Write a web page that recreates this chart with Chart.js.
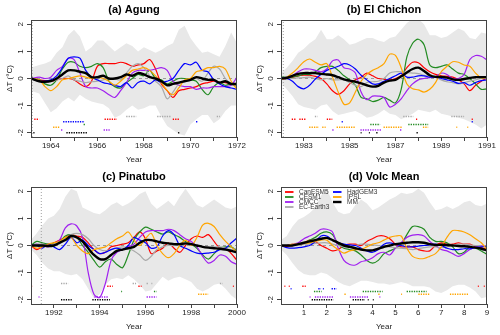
<!DOCTYPE html>
<html>
<head>
<meta charset="utf-8">
<script src="https://cdn.jsdelivr.net/npm/chart.js@4.4.1/dist/chart.umd.min.js"></script>
<style>
  body { margin: 0; background: #fff; }
  #wrap { position: relative; width: 500px; height: 335px; }
  .panel { position: absolute; width: 250px; height: 167px; }
</style>
</head>
<body>
<div id="wrap">
  <div class="panel" style="left:0;top:0"><canvas id="cA" width="250" height="167"></canvas></div>
  <div class="panel" style="left:250px;top:0"><canvas id="cB" width="250" height="167"></canvas></div>
  <div class="panel" style="left:0;top:167px"><canvas id="cC" width="250" height="167"></canvas></div>
  <div class="panel" style="left:250px;top:167px"><canvas id="cD" width="250" height="167"></canvas></div>
</div>
<script>
// models and their colours
const models = ["CanESM5", "CESM1", "CMCC", "EC-Earth3", "HadGEM3", "IPSL", "MM"];
const colours = ["#ff0000", "#228b22", "#a020f0", "#a9a9a9", "#0000ff", "#ffa500", "#000000"];
// row where each model's significance dots sit
const sigLevels = [-1.5, -1.7, -1.9, -1.4, -1.6, -1.8, -2.0];
const yTicks = [-2, -1, 0, 1, 2];

// ---- (a) Agung ----
const yrsA = [1963.15,1963.5,1963.75,1964,1964.25,1964.5,1964.75,1965,1965.25,1965.5,1965.75,1966,1966.25,1966.5,1966.75,1967,1967.25,1967.5,1967.75,1968,1968.25,1968.5,1968.75,1969,1969.25,1969.5,1969.75,1970,1970.25,1970.5,1970.75,1971,1971.25,1971.5,1971.75,1972];
const canA = [0,-0.05,-0.08,-0.1,-0.05,0,0,-0.05,-0.2,-0.3,-0.1,0.45,0.55,0.55,0.55,0.6,0.55,0.45,0.5,0.55,0.7,0.35,-0.2,-0.45,-0.7,-0.45,-0.4,-0.35,-0.3,-0.2,-0.15,-0.1,-0.15,-0.15,-0.2,-0.2];
const cesA = [0,-0.05,-0.2,-0.25,-0.05,0.35,0.6,0.6,0.45,0.4,0.45,0.55,0.4,-0.1,-0.3,-0.35,-0.15,0,0.15,0.1,0.3,0,-0.05,-0.2,-0.1,0,0,-0.05,-0.1,-0.4,-0.6,-0.3,-0.15,-0.25,-0.2,-0.3];
const cmcA = [0,0.05,0,0.05,0.3,0.45,0.75,0.7,0.2,-0.3,-0.35,-0.35,-0.45,-0.6,-0.7,-0.45,-0.15,0.2,0.3,0.3,0.3,0.35,0.4,0.3,-0.1,-0.25,-0.3,-0.3,-0.4,-0.35,-0.35,-0.3,-0.3,-0.3,-0.25,0.05];
const ecA = [0,-0.1,-0.12,-0.1,-0.05,0,0.1,-0.05,-0.1,-0.15,-0.12,-0.1,-0.05,0,-0.02,-0.05,0.2,0.45,0.55,0.4,0.1,-0.1,-0.3,-0.75,-0.5,-0.2,-0.1,-0.05,0,-0.1,0.2,0.45,0.35,0,-0.2,-0.3];
const hadA = [0,-0.1,-0.1,-0.05,0.1,0.4,0.75,0.8,0.75,0.3,0.05,-0.05,-0.15,-0.2,-0.25,-0.3,-0.15,-0.35,-0.15,-0.1,-0.2,-0.05,-0.15,-0.1,0,0.3,0.55,0.5,0.6,0.3,0.25,-0.05,-0.2,-0.3,-0.35,-0.4];
const ipsA = [0,-0.05,-0.3,-0.45,-0.3,-0.05,0,0.05,0.1,0.05,0,0.05,0,-0.1,-0.25,-0.1,0.1,0.3,0.35,0.4,0.3,0.1,-0.15,-0.45,-0.6,-0.35,-0.05,0,0.25,0.3,0.4,0.4,0.45,0.35,-0.1,-0.4];
const mmA = [0,-0.1,-0.12,-0.1,0,0.15,0.3,0.3,0.25,0.2,0.05,0.05,0.1,0,0,0.05,0.15,0.1,0.2,0.15,0.05,0,-0.1,-0.25,-0.2,-0.15,-0.1,-0.05,0.05,0,-0.05,-0.05,-0.15,-0.1,-0.2,-0.2];
const hiA = [0.4,0.5,0.55,0.65,0.95,1.15,1.6,1.8,1.55,1.0,1.15,1.4,1.4,1.2,1.0,1.15,1.3,1.2,1.0,1.15,1.05,0.95,1.05,1.2,1.3,1.8,1.95,1.5,1.2,0.95,1.0,0.9,0.8,1.2,1.7,1.3];
const loA = [-0.45,-0.55,-0.9,-1.25,-1.1,-0.85,-0.7,-0.85,-0.6,-0.75,-0.85,-0.9,-0.95,-1.1,-1.45,-1.35,-1.15,-1.0,-1.15,-1.1,-1.0,-1.0,-1.4,-1.75,-1.9,-2.05,-2.1,-1.7,-1.5,-1.35,-1.35,-1.65,-1.5,-1.2,-1.0,-1.0];
const canSigA = [[1963.29,1963.5],[1966.31,1966.84],[1969.24,1969.53]];
const cesSigA = [[1965.41,1965.47]];
const cmcSigA = [[1964.44,1964.5],[1966.27,1966.53]];
const ecSigA = [[1967.24,1967.67],[1968.57,1969.17],[1971.13,1971.27]];
const hadSigA = [[1964.53,1965.46],[1970.24,1970.34]];
const ipsSigA = [[1964.1,1964.39]];
const mmSigA = [[1963.25,1963.3],[1964.67,1965.56],[1969.47,1969.52]];

// ---- (b) El Chichon ----
const yrsB = [1982,1982.25,1982.5,1982.75,1983,1983.25,1983.5,1983.75,1984,1984.25,1984.5,1984.75,1985,1985.25,1985.5,1985.75,1986,1986.25,1986.5,1986.75,1987,1987.25,1987.5,1987.75,1988,1988.25,1988.5,1988.75,1989,1989.25,1989.5,1989.75,1990,1990.25,1990.5,1990.75,1991];
const canB = [0,0,0.03,0.1,0.12,0.12,0.08,0,-0.2,-0.45,-0.58,-0.45,-0.2,-0.05,0.05,0.2,0.1,0,-0.03,-0.05,0,0.1,0.4,0.6,0.58,0.4,0.25,0.15,0.1,0.08,0.05,-0.05,-0.2,-0.45,-0.25,-0.1,0.02];
const cesB = [0.05,0.05,0.05,0.1,0.15,0.15,0.25,0.4,0.45,0.45,0.3,0.1,-0.05,-0.25,-0.7,-0.75,-0.85,-0.8,-0.7,-0.8,-0.9,-0.4,0.8,1.3,1.45,1.25,0.5,0.4,0.45,0.5,0.35,0.2,0.15,0,-0.2,-0.4,-0.38];
const cmcB = [0,0.05,0.1,0.25,0.35,0.35,0.3,0.25,0.35,0.65,0.68,0.4,0.35,0.2,-0.5,-0.78,-0.65,-0.65,-0.7,-1.05,-0.95,-0.75,-0.45,-0.2,-0.05,0,0.03,0.06,0.2,0.15,0,0,0.15,0.7,0.85,0.82,0.68];
const ecB = [0,0,0,0.02,0.03,0.05,0,-0.05,0,-0.05,-0.05,-0.05,-0.15,-0.25,-0.3,-0.15,-0.12,-0.1,0,0.2,0.25,0.25,0.22,0.2,0.18,0.12,0.08,0.05,-0.05,-0.12,-0.15,-0.2,-0.15,-0.1,-0.05,0,0];
const hadB = [0,0,-0.1,-0.3,-0.38,-0.25,-0.02,0.15,0.3,0.38,0.45,0.55,0.5,0.35,0.12,-0.05,-0.2,-0.2,-0.1,0,0.1,0.2,0.05,0.05,0.1,0.1,0.05,0.05,0,-0.05,-0.1,-0.18,-0.15,-0.25,-0.15,-0.08,-0.05];
const ipsB = [-0.05,0.05,0.2,0.4,0.62,0.72,0.6,0.5,0.55,0.05,-0.5,-0.95,-0.9,-0.5,-0.1,0.15,0.3,0.4,0.55,0.9,0.85,0.4,-0.2,-0.38,-0.42,-0.5,-0.4,-0.15,0.25,0.45,0.62,0.6,0.5,0.45,0.2,0.02,0.05];
const mmB = [0,0.02,0.1,0.17,0.2,0.2,0.2,0.17,0.15,0.12,0.05,-0.03,-0.08,-0.12,-0.18,-0.25,-0.3,-0.27,-0.15,-0.08,-0.05,0.08,0.22,0.35,0.4,0.28,0.12,0.06,0.06,0.03,-0.03,-0.05,-0.02,0.02,0.05,0.05,0.05];
const hiB = [0.2,0.4,0.65,0.95,1.1,1.3,1.45,1.8,1.45,1.45,1.6,1.45,1.25,1.3,1.4,1.5,1.5,1.4,1.35,1.5,1.55,1.8,2.05,2.2,2.2,2.0,1.6,1.6,1.5,1.55,1.7,1.85,1.75,1.5,1.45,1.7,1.65];
const loB = [-0.15,-0.4,-0.65,-0.95,-1.05,-1.1,-1.15,-1.0,-0.95,-1.2,-1.35,-1.3,-1.25,-1.2,-1.3,-1.45,-1.4,-1.3,-1.15,-1.3,-1.35,-1.5,-1.4,-1.3,-1.15,-1.2,-1.25,-1.15,-1.3,-1.35,-1.4,-1.45,-1.5,-1.6,-1.7,-1.85,-1.7];
const canSigB = [[1982.47,1982.68],[1982.8,1983.09],[1984.0,1984.24],[1987.9,1987.95],[1990.33,1990.38]];
const cesSigB = [[1985.9,1986.33],[1987.56,1988.43]];
const cmcSigB = [[1984.24,1984.34],[1985.47,1986.4],[1987.2,1987.27]];
const ecSigB = [[1983.48,1983.6],[1987.34,1987.78],[1989.44,1990.0]];
const hadSigB = [[1984.65,1984.7],[1990.33,1990.38]];
const ipsSigB = [[1983.23,1983.66],[1983.8,1983.95],[1984.43,1985.25],[1986.48,1987.27],[1988.2,1988.43],[1989.66,1989.7],[1990.14,1990.18]];
const mmSigB = [[1985.48,1985.52],[1985.84,1985.88],[1986.16,1986.26],[1987.92,1988.02]];

// ---- (c) Pinatubo ----
const yrsC = [1991,1991.25,1991.5,1991.75,1992,1992.25,1992.5,1992.75,1993,1993.25,1993.5,1993.75,1994,1994.25,1994.5,1994.75,1995,1995.25,1995.5,1995.75,1996,1996.25,1996.5,1996.75,1997,1997.25,1997.5,1997.75,1998,1998.25,1998.5,1998.75,1999,1999.25,1999.5,1999.75,2000];
const canC = [0,-0.15,-0.05,0,0.1,0.2,0.3,0.4,0.35,0.3,0.1,-0.15,-0.3,-0.25,-0.05,0,0.05,0.1,0.3,0.5,0.25,-0.3,-0.2,-0.1,0.1,-0.1,-0.25,0,0.25,0.35,0.3,0.4,0.15,-0.1,-0.1,-0.3,-0.55];
const cesC = [0,0.15,0.1,0.05,0.08,0.15,0.35,0.4,0.3,0,-0.25,-0.55,-0.8,-0.6,-0.5,-0.7,-0.82,-0.35,0.2,0.5,0.68,0.6,0.5,0.42,0.5,0.4,0.3,0.15,0.05,-0.1,-0.35,-0.5,-0.3,-0.1,-0.05,-0.05,-0.2];
const cmcC = [0,0.05,0,-0.05,0.05,0.2,0.65,0.8,0.72,0.3,-1.0,-1.8,-1.92,-1.4,-0.55,-0.25,-0.15,-0.05,0.05,0.3,0.5,0.55,0.55,0.55,0.6,0.55,0.4,0.25,0.15,-0.05,-0.4,-0.65,-0.55,-0.35,-0.4,-0.6,-0.7];
const ecC = [0,0.05,0.05,0,0.05,0.15,0.25,0.4,0.45,0.4,0.25,0,-0.15,-0.2,-0.15,-0.1,-0.05,-0.1,-0.2,-0.35,-0.55,-0.4,-0.15,-0.05,0,0,0.05,0.05,0.05,0,-0.05,-0.05,-0.05,-0.05,-0.1,-0.15,-0.1];
const hadC = [0,0,-0.1,0.05,-0.05,-0.15,0.05,0.3,0.1,0.2,0,-0.15,-0.3,-0.25,-0.15,-0.1,-0.15,0,0.3,0.2,0.1,-0.1,-0.05,0.35,0.55,0.4,0,-0.1,-0.2,-0.28,-0.3,-0.28,-0.25,-0.15,-0.1,0.1,0.28];
const ipsC = [0,-0.1,-0.05,0.05,0.1,0.15,0.3,0.3,0,-0.2,-0.3,-0.15,-0.1,-0.05,0.1,0.25,0.35,0.5,0.2,0,0.25,0.45,0,-0.3,-0.45,-0.3,0,0.2,0,0.3,0.75,0.82,0.7,0.4,0.15,-0.05,-0.25];
const mmC = [0,0,0,-0.02,0,0.1,0.2,0.35,0.3,0.15,-0.1,-0.35,-0.5,-0.5,-0.35,-0.2,-0.15,-0.1,-0.05,0.1,0.2,0.2,0.15,0.1,0.08,0.05,0.05,0.08,0.05,0,-0.05,-0.08,-0.1,-0.12,-0.15,-0.2,-0.25];
const hiC = [0.2,0.45,0.75,1.0,1.1,1.35,1.8,2.1,2.0,1.4,1.3,1.2,1.15,1.3,1.5,1.6,1.45,1.55,1.7,1.9,2.0,1.55,1.35,1.5,1.65,1.45,1.8,2.1,1.8,1.5,1.4,1.55,1.7,1.55,1.4,1.35,1.45];
const loC = [-0.15,-0.35,-0.65,-0.85,-0.95,-0.95,-1.05,-1.1,-1.05,-1.25,-1.6,-1.95,-1.8,-1.45,-1.25,-1.2,-1.25,-1.1,-1.25,-1.45,-1.7,-1.65,-1.4,-1.15,-1.3,-1.2,-1.15,-1.25,-1.35,-1.6,-1.7,-1.6,-1.45,-1.4,-1.6,-1.85,-2.0];
const canSigC = [[1991.01,1991.05],[1994.33,1994.57],[1995.69,1995.83],[1999.82,1999.86]];
const cesSigC = [[1994.94,1994.98],[1996.37,1996.49]];
const cmcSigC = [[1991.33,1991.37],[1993.77,1994.4],[1996.05,1996.49]];
const ecSigC = [[1992.31,1992.63],[1995.44,1995.59],[1996.05,1996.14],[1996.26,1996.3],[1999.25,1999.37]];
const hadSigC = [];
const ipsSigC = [[1998.3,1998.74]];
const mmSigC = [[1992.31,1992.78],[1993.68,1994.45]];

// ---- (d) Volc Mean ----
const yrsD = [0,0.25,0.5,0.75,1,1.25,1.5,1.75,2,2.25,2.5,2.75,3,3.25,3.5,3.75,4,4.25,4.5,4.75,5,5.25,5.5,5.75,6,6.25,6.5,6.75,7,7.25,7.5,7.75,8,8.25,8.5,8.75,9];
const canD = [0,-0.03,0,0.05,0.1,0.2,0.15,0,-0.1,-0.2,-0.15,0,0.05,0.05,0,0.15,0.25,0.35,0.35,0.25,0.05,-0.05,-0.05,-0.05,-0.15,-0.2,-0.2,0,0.1,0.05,0.05,0.1,0.05,0.05,-0.05,-0.08,-0.15];
const cesD = [0,0,0,0.05,0.1,0.2,0.3,0.45,0.5,0.4,0.05,-0.1,-0.15,-0.2,-0.35,-0.55,-0.65,-0.55,-0.3,-0.2,-0.1,0.05,0.4,0.7,0.7,0.6,0.3,0.15,0.15,0.1,-0.05,-0.3,-0.25,-0.05,-0.1,-0.2,-0.33];
const cmcD = [0,0,0.05,0.1,0.25,0.35,0.45,0.6,0.6,0.5,-0.1,-0.55,-0.7,-0.72,-0.6,-0.55,-0.45,-0.3,-0.25,-0.35,-0.1,0.1,0.3,0.38,0.4,0.35,0.15,0,-0.15,-0.2,-0.3,-0.4,-0.3,-0.15,-0.05,0,-0.05];
const ecD = [0,0,0,0,0.05,0.05,0.08,0.1,0.1,0.05,0,-0.05,-0.05,0,0.05,0.05,0.02,0,-0.05,-0.05,-0.08,-0.1,-0.12,-0.15,-0.12,-0.08,-0.05,-0.05,-0.08,-0.05,0,0.05,0.05,0.02,0,-0.02,-0.05];
const hadD = [0,-0.08,-0.1,-0.08,-0.05,0,0.15,0.35,0.35,0.2,0.1,0.05,0.02,0,-0.1,-0.2,-0.25,-0.15,0.05,0.1,0.05,0,-0.05,-0.05,-0.02,0,0.02,0.05,0,-0.1,-0.15,-0.15,-0.12,-0.12,-0.08,-0.05,-0.03];
const ipsD = [0,0,0.05,0.05,0.08,0.1,0.15,0.2,0.2,0,-0.15,-0.28,-0.2,-0.15,-0.15,-0.05,0.05,0.1,0.2,0.3,0.35,0.35,-0.1,-0.4,-0.48,-0.48,-0.4,-0.3,-0.05,0.3,0.55,0.55,0.5,0.4,0.25,0.1,-0.15];
const mmD = [0,0,0,0.05,0.1,0.15,0.2,0.25,0.28,0.2,0.1,0,-0.05,-0.1,-0.15,-0.18,-0.18,-0.12,-0.05,0,0.05,0.08,0.1,0.12,0.12,0.1,0.05,0.02,0.03,0.02,0,-0.02,-0.03,-0.05,-0.08,-0.12,-0.18];
const hiD = [0.2,0.35,0.7,0.95,1.05,1.2,1.4,1.85,2.1,1.6,1.25,1.15,1.2,1.5,1.7,1.55,1.3,1.4,1.55,1.7,1.8,1.95,1.9,1.95,2.1,1.95,1.6,1.3,1.35,1.45,1.35,1.45,1.6,1.65,1.5,1.45,1.55];
const loD = [-0.15,-0.35,-0.65,-0.9,-1.05,-1.1,-1.1,-1.0,-1.05,-1.2,-1.35,-1.45,-1.5,-1.4,-1.3,-1.3,-1.35,-1.4,-1.4,-1.45,-1.4,-1.35,-1.4,-1.5,-1.5,-1.5,-1.55,-1.7,-1.75,-1.65,-1.5,-1.45,-1.45,-1.55,-1.7,-1.95,-1.9];
const canSigD = [[0.15,0.19],[0.34,0.38],[0.93,1.08],[8.6,8.64],[8.86,8.9]];
const cesSigD = [[1.44,1.78],[3.57,4.44],[5.49,6.36]];
const cmcSigD = [[1.25,1.29],[1.48,2.29],[3.01,3.81],[4.3,4.34]];
const ecSigD = [];
const hadSigD = [[0.42,0.46],[1.63,1.75],[1.83,1.87],[2.21,2.43]];
const ipsSigD = [[2.77,2.87],[4.25,4.35],[5.25,5.29],[6.0,6.48],[7.38,8.18]];
const mmSigD = [[1.34,2.29],[3.13,3.67],[3.79,3.83],[4.01,4.05]];

const FONT = "'Liberation Sans', Arial, Helvetica, sans-serif";
const Y_MIN = -2.16, Y_MAX = 2.16;

function pts(xs, ys) {
    return xs.map((x, i) => ({ x: x, y: ys[i] }));
}

function runs(ranges, level) {
    const out = [];
    ranges.forEach(([a, b]) => {
        out.push({ x: a, y: level }, { x: b, y: level }, { x: b, y: null });
    });
    return out;
}

function makePanel(id, p) {
    const datasets = [];
    // grey envelope
    datasets.push({ data: pts(p.x, p.hi), borderWidth: 0, pointRadius: 0, fill: "+1", backgroundColor: "#e8e8e8", order: 50 });
    datasets.push({ data: pts(p.x, p.lo), borderWidth: 0, pointRadius: 0, fill: false, order: 50 });
    // zero line
    datasets.push({ data: [{ x: p.min, y: 0 }, { x: p.max, y: 0 }], borderColor: "#9a9a9a", borderWidth: 1, borderDash: [3, 3], pointRadius: 0, order: 40 });
    if (p.erupt !== null) {
        datasets.push({ data: [{ x: p.erupt, y: Y_MIN }, { x: p.erupt, y: Y_MAX }], borderColor: "#a0a0a0", borderWidth: 1, borderDash: [1, 2], pointRadius: 0, order: 40 });
    }
    p.series.forEach((s, i) => {
        const isMM = i === 6;
        datasets.push({
            data: pts(p.x, s), borderColor: colours[i], borderWidth: isMM ? 2.4 : 1.2,
            pointRadius: 0, tension: 0.3, fill: false, order: isMM ? 0 : 20 - i
        });
    });
    p.sig.forEach((r, i) => {
        if (!r.length) return;
        datasets.push({
            data: runs(r, sigLevels[i]), borderColor: colours[i], borderWidth: 1.5,
            borderDash: [1.3, 1.1], borderCapStyle: "butt", pointRadius: 0, spanGaps: false, fill: false, order: 5
        });
    });

    const framePlugin = {
        id: "frame" + id,
        afterDraw(chart) {
            const ctx = chart.ctx;
            const a = chart.chartArea;
            const ys = chart.scales.y;
            ctx.save();
            ctx.strokeStyle = "#444";
            ctx.lineWidth = 1;
            ctx.strokeRect(a.left + 0.5, a.top + 0.5, a.right - a.left - 1, a.bottom - a.top);
            // rotated y tick labels, R style
            ctx.fillStyle = "#222";
            ctx.font = "8px " + FONT;
            ctx.textAlign = "center";
            ctx.textBaseline = "middle";
            yTicks.forEach(v => {
                ctx.save();
                ctx.translate(ys.right - 10.5, ys.getPixelForValue(v));
                ctx.rotate(-Math.PI / 2);
                ctx.fillText(String(v), 0, 0);
                ctx.restore();
            });
            // panel title
            ctx.font = "bold 11px " + FONT;
            ctx.fillStyle = "#000";
            ctx.fillText(p.title, (a.left + a.right) / 2, 10);
            if (p.legend) {
                ctx.font = "6.5px " + FONT;
                ctx.textAlign = "left";
                const cols = [[0, 1, 2, 3], [4, 5, 6]];
                cols.forEach((c, ci) => {
                    c.forEach((m, ri) => {
                        const lx = a.left + 4 + ci * 48;
                        const ly = a.top + 5 + ri * 5;
                        ctx.strokeStyle = colours[m];
                        ctx.lineWidth = m === 6 ? 2.4 : 1.8;
                        ctx.beginPath();
                        ctx.moveTo(lx, ly);
                        ctx.lineTo(lx + 8.5, ly);
                        ctx.stroke();
                        ctx.fillStyle = "#333";
                        ctx.fillText(models[m], lx + 14, ly + 0.5);
                    });
                });
            }
            ctx.restore();
        }
    };

    return new Chart(document.getElementById(id), {
        type: "line",
        data: { datasets: datasets },
        plugins: [framePlugin],
        options: {
            responsive: false,
            animation: false,
            events: [],
            layout: { padding: { top: 20, right: 13, left: 0, bottom: 0 } },
            plugins: {
                legend: { display: false },
                tooltip: { enabled: false },
                filler: { drawTime: "beforeDatasetsDraw" }
            },
            scales: {
                x: {
                    type: "linear",
                    min: p.min,
                    max: p.max,
                    afterBuildTicks: s => { s.ticks = p.xTicks.map(v => ({ value: v })); },
                    afterFit: s => { s.height = 30; },
                    ticks: {
                        autoSkip: false, maxRotation: 0, minRotation: 0, padding: 0,
                        color: "#222", font: { family: FONT, size: 8 },
                        callback: v => (p.xLabels.includes(v) ? String(v) : "")
                    },
                    grid: { drawOnChartArea: false, drawTicks: true, tickLength: 4, color: "#444" },
                    border: { display: false },
                    title: { display: true, text: "Year", color: "#222", font: { family: FONT, size: 8 }, padding: { top: 0, bottom: 2 } }
                },
                y: {
                    type: "linear",
                    min: Y_MIN,
                    max: Y_MAX,
                    afterBuildTicks: s => { s.ticks = yTicks.map(v => ({ value: v })); },
                    afterFit: s => { s.width = 31; },
                    ticks: { display: false },
                    grid: { drawOnChartArea: false, drawTicks: true, tickLength: 4, color: "#444" },
                    border: { display: false },
                    title: { display: true, text: "ΔT (°C)", color: "#222", font: { family: FONT, size: 8 }, padding: { top: 5, bottom: 0 } }
                }
            }
        }
    });
}

makePanel("cA", {
    title: "(a) Agung", x: yrsA, min: 1963.15, max: 1972, erupt: 1963.2,
    xTicks: [1964, 1965, 1966, 1967, 1968, 1969, 1970, 1971, 1972], xLabels: [1964, 1966, 1968, 1970, 1972],
    series: [canA, cesA, cmcA, ecA, hadA, ipsA, mmA], hi: hiA, lo: loA,
    sig: [canSigA, cesSigA, cmcSigA, ecSigA, hadSigA, ipsSigA, mmSigA], legend: false
});
makePanel("cB", {
    title: "(b) El Chichon", x: yrsB, min: 1982, max: 1991, erupt: 1982.1,
    xTicks: [1983, 1984, 1985, 1986, 1987, 1988, 1989, 1990, 1991], xLabels: [1983, 1985, 1987, 1989, 1991],
    series: [canB, cesB, cmcB, ecB, hadB, ipsB, mmB], hi: hiB, lo: loB,
    sig: [canSigB, cesSigB, cmcSigB, ecSigB, hadSigB, ipsSigB, mmSigB], legend: false
});
makePanel("cC", {
    title: "(c) Pinatubo", x: yrsC, min: 1991, max: 2000, erupt: 1991.45,
    xTicks: [1992, 1993, 1994, 1995, 1996, 1997, 1998, 1999, 2000], xLabels: [1992, 1994, 1996, 1998, 2000],
    series: [canC, cesC, cmcC, ecC, hadC, ipsC, mmC], hi: hiC, lo: loC,
    sig: [canSigC, cesSigC, cmcSigC, ecSigC, hadSigC, ipsSigC, mmSigC], legend: false
});
makePanel("cD", {
    title: "(d) Volc Mean", x: yrsD, min: 0, max: 9, erupt: null,
    xTicks: [1, 2, 3, 4, 5, 6, 7, 8, 9], xLabels: [1, 2, 3, 4, 5, 6, 7, 8, 9],
    series: [canD, cesD, cmcD, ecD, hadD, ipsD, mmD], hi: hiD, lo: loD,
    sig: [canSigD, cesSigD, cmcSigD, ecSigD, hadSigD, ipsSigD, mmSigD], legend: true
});
</script>
</body>
</html>
